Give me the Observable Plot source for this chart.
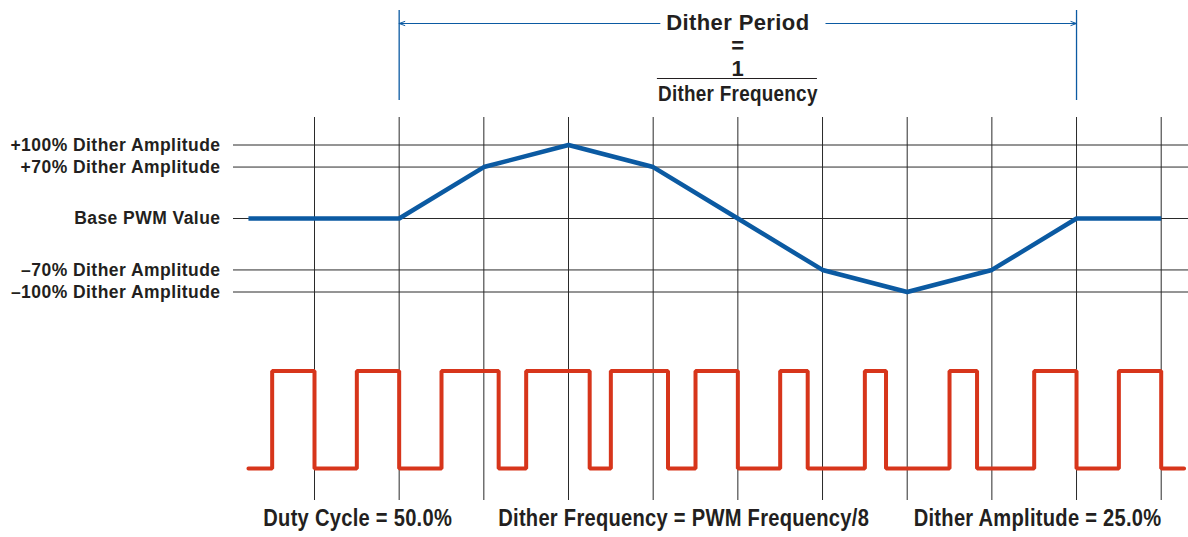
<!DOCTYPE html>
<html>
<head>
<meta charset="utf-8">
<script src="https://cdn.jsdelivr.net/npm/d3@7"></script>
<script src="https://cdn.jsdelivr.net/npm/@observablehq/plot@0.6"></script>
<style>
  html, body { margin: 0; padding: 0; background: #fff; }
  #chart svg { display: block; }
</style>
</head>
<body>
<div id="chart"></div>
<script>
// ---- data (x in PWM periods, 0..10 = the vertical grid lines) ----
const pwmPeriods = [0, 1, 2, 3, 4, 5, 6, 7, 8, 9, 10];
const ditherX   = [-0.78, 1, 2, 3, 4, 5, 6, 7, 8, 9, 10];
const ditherPct = [0, 0, 70, 100, 70, 0, -70, -100, -70, 0, 0];
const levelTicks  = [100, 70, 0, -70, -100];
const levelLabels = ["+100% Dither Amplitude", "+70% Dither Amplitude", "Base PWM Value",
                     "\u201370% Dither Amplitude", "\u2013100% Dither Amplitude"];
const pwmRise = [-0.5, 0.5, 1.5, 2.5, 3.5, 4.5, 5.5, 6.5, 7.5, 8.5, 9.5];
const pwmDuty = [50, 50, 67.5, 75, 67.5, 50, 32.5, 25, 32.5, 50, 50];   // % high per PWM period
const pwmSpan = [-0.78, 10.27];
const ditherPeriod = [1, 9];
const headerLines = ["Dither Period", "=", "1"];
const headerDenominator = "Dither Frequency";
const captions = ["Duty Cycle = 50.0%", "Dither Frequency = PWM Frequency/8", "Dither Amplitude = 25.0%"];
const captionX = [0.51, 4.36, 8.54];

// ---- derived tables ----
const ditherData = ditherX.map((x, i) => ({x, v: ditherPct[i]}));
const levelName = new Map(levelTicks.map((t, i) => [t, levelLabels[i]]));
const pwmData = [{x: pwmSpan[0], s: 0}];
pwmRise.forEach((r, i) => {
  const f = r + pwmDuty[i] / 100;
  pwmData.push({x: r, s: 0}, {x: r, s: 1}, {x: f, s: 1}, {x: f, s: 0});
});
pwmData.push({x: pwmSpan[1], s: 0});
const captionData = captions.map((t, i) => ({t, x: captionX[i]}));

const W = 1188;
const xScale = {domain: [0, 10], range: [314, 1160.7]};
const BLUE = "#0b5aa2", RED = "#d7351b", GRID = "#2a2a2a", INK = "#231f20";
const FONT = "'Liberation Sans', Arial, Helvetica, sans-serif";

// header
const headerPlot = Plot.plot({
  width: W, height: 117,
  marginTop: 10, marginBottom: 17, marginLeft: 0, marginRight: 0,
  x: xScale, y: {domain: [0, 1], range: [23, 100]},
  axis: null,
  style: {fontFamily: FONT, color: INK, background: "#fff", letterSpacing: "0.4px"},
  marks: [
    Plot.ruleX(ditherPeriod, {stroke: BLUE, strokeWidth: 1.3}),
    Plot.arrow([{x1: 4.08, x2: ditherPeriod[0]}, {x1: 6.04, x2: ditherPeriod[1]}],
      {x1: "x1", x2: "x2", y1: 0, y2: 0, stroke: BLUE, strokeWidth: 1, headLength: 9, headAngle: 40}),
    Plot.text([headerLines[0]], {x: 5, y: 0, text: d => d, fontSize: 22, fontWeight: "bold", fill: INK, dy: -1}),
    Plot.text([headerLines[1]], {x: 5, y: 0, text: d => d, fontSize: 22, fontWeight: "bold", fill: INK, dy: 22}),
    Plot.text([headerLines[2]], {x: 5, y: 0, text: d => d, fontSize: 22, fontWeight: "bold", fill: INK, dy: 45}),
    Plot.ruleY([0], {x1: 4.05, x2: 5.94, stroke: INK, strokeWidth: 1, dy: 55}),
    Plot.text([headerDenominator], {x: 5, y: 0, text: d => d, fontSize: 22, fontWeight: "bold", fill: INK, dy: 70})
  ]
});

// dither levels
const levelPlot = Plot.plot({
  width: W, height: 213,
  marginTop: 0, marginBottom: 0, marginLeft: 233, marginRight: 0,
  x: {...xScale, axis: null},
  y: {domain: [-100, 100], range: [174.5, 27.5]},
  style: {fontFamily: FONT, color: INK, background: "#fff", letterSpacing: "0.45px"},
  marks: [
    Plot.ruleY(levelTicks, {stroke: GRID, strokeWidth: 1}),
    Plot.ruleX(pwmPeriods, {stroke: GRID, strokeWidth: 1}),
    Plot.axisY(levelTicks, {anchor: "left", tickSize: 0, tickPadding: 13,
      tickFormat: d => levelName.get(d), fontSize: 17.5, fontWeight: "bold", fill: INK, label: null}),
    Plot.line(ditherData, {x: "x", y: "v", stroke: BLUE, strokeWidth: 4.5, strokeLinejoin: "miter", strokeLinecap: "butt"})
  ]
});

// PWM waveform
const pwmPlot = Plot.plot({
  width: W, height: 207,
  marginTop: 0, marginBottom: 37, marginLeft: 0, marginRight: 0,
  x: xScale, y: {domain: [0, 1], range: [138, 40.5]},
  axis: null,
  style: {fontFamily: FONT, color: INK, background: "#fff"},
  marks: [
    Plot.ruleX(pwmPeriods, {stroke: GRID, strokeWidth: 1}),
    Plot.line(pwmData, {x: "x", y: "s", stroke: RED, strokeWidth: 4, strokeLinejoin: "miter", strokeLinecap: "round"}),
    Plot.text(captionData, {x: "x", frameAnchor: "bottom", text: "t", dy: 25, fontSize: 24, fontWeight: "bold", fill: INK})
  ]
});

// condensed look for the denominator and the captions
function condense(el, k, spacing) {
  const t = el.getAttribute("transform") || "";
  el.setAttribute("transform", t + ` scale(${k},1)`);
  el.style.letterSpacing = spacing;
}
headerPlot.querySelectorAll("text").forEach(el => {
  if (el.textContent === headerDenominator) condense(el, 0.86, "0.3px");
});
pwmPlot.querySelectorAll("text").forEach(el => condense(el, 0.84, "0.3px"));

document.getElementById("chart").append(headerPlot, levelPlot, pwmPlot);
</script>
</body>
</html>
